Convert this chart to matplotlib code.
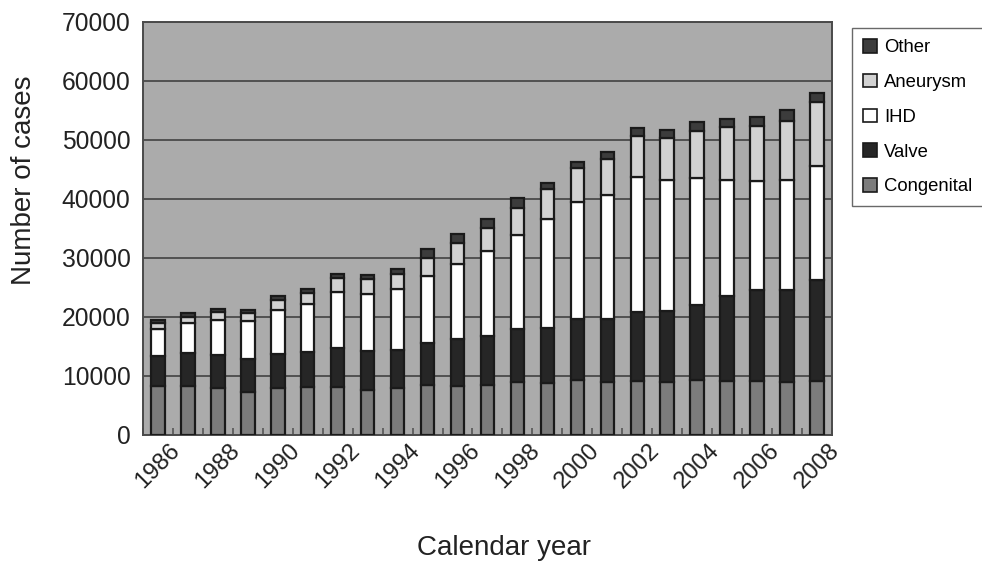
import matplotlib
matplotlib.use("Agg")
import matplotlib.pyplot as plt
import matplotlib.transforms as mtransforms
import numpy as np
from matplotlib.patches import Patch

plt.rcParams['font.family'] = ['Liberation Sans', 'DejaVu Sans']

years = list(range(1986, 2009))
congenital = [8300, 8300, 8010, 7330, 7890, 8180, 8180, 7620, 7880, 8390, 8270, 8390,
              9020, 8850, 9240, 8950, 9110, 9010, 9280, 9110, 9110, 9010, 9180]
valve = [5160, 5550, 5570, 5500, 5790, 5960, 6640, 6640, 6440, 7240, 7920, 8360,
         8980, 9320, 10340, 10740, 11690, 12070, 12820, 14420, 15390, 15490, 17090]
ihd = [4540, 5110, 5960, 6540, 7560, 8130, 9370, 9710, 10340, 11290, 12830, 14350,
       15810, 18470, 19880, 20900, 22960, 22110, 21370, 19660, 18520, 18690, 19320]
aneurysm = [960, 1090, 1240, 1300, 1590, 1870, 2440, 2380, 2540, 3000, 3560, 3950,
            4630, 5090, 5710, 6110, 6840, 7120, 8100, 8950, 9290, 9970, 10820]
other = [580, 560, 570, 570, 680, 680, 680, 740, 850, 1520, 1400, 1480,
         1760, 1020, 1070, 1230, 1420, 1430, 1470, 1420, 1540, 1880, 1590]

series = [
    ("Congenital", congenital, "#7c7c7c"),
    ("Valve", valve, "#262626"),
    ("IHD", ihd, "#ffffff"),
    ("Aneurysm", aneurysm, "#d2d2d2"),
    ("Other", other, "#3c3c3c"),
]

fig = plt.figure(figsize=(9.82, 5.61), dpi=100)
ax = fig.add_axes([0.1456, 0.2246, 0.7016, 0.7364])
ax.set_facecolor("#ababab")

x = np.arange(len(years))
bottom = np.zeros(len(years))
for name, vals, col in series:
    vals = np.array(vals, dtype=float)
    ax.bar(x, vals, bottom=bottom, width=0.45, color=col, edgecolor="#1a1a1a",
           linewidth=1.6, zorder=3)
    bottom += vals

ax.set_ylim(0, 70000)
ax.set_xlim(-0.5, len(years) - 0.5)
ax.set_yticks(np.arange(0, 70001, 10000))
ax.yaxis.grid(True, color="#4a4a4a", linewidth=1.3, zorder=1)
ax.set_axisbelow(True)

ax.set_xticks(x[::2])
ax.set_xticklabels([str(y) for y in years[::2]], rotation=45, ha="center", va="top",
                   fontsize=17.2, color="#222222")
shift = mtransforms.ScaledTranslation(6 / 100, 0, fig.dpi_scale_trans)
for lbl in ax.get_xticklabels():
    lbl.set_transform(lbl.get_transform() + shift)
ax.set_xticks(np.arange(-0.5, len(years), 1), minor=True)
ax.tick_params(axis="x", which="major", length=0, pad=3)
ax.tick_params(axis="x", which="minor", direction="in", length=5, width=1.2, color="#555555")
ax.tick_params(axis="y", length=0, pad=9, labelsize=17.7, labelcolor="#222222")

for s in ax.spines.values():
    s.set_color("#4a4a4a")
    s.set_linewidth(1.4)

ax.set_ylabel("Number of cases", fontsize=20, color="#222222", labelpad=18, y=0.617)
ax.set_xlabel("Calendar year", fontsize=20, color="#222222", labelpad=31, x=0.524)

handles = [Patch(facecolor=col, edgecolor="#1a1a1a", linewidth=1.2, label=name)
           for name, vals, col in reversed(series)]
leg = fig.legend(handles=handles, loc="upper left", bbox_to_anchor=(0.8676, 0.950),
                 borderaxespad=0, frameon=True, fontsize=13.3, handlelength=0.75,
                 handleheight=0.75, handletextpad=0.4, labelspacing=0.95,
                 borderpad=0.6, fancybox=False)
leg.get_frame().set_edgecolor("#444444")
leg.get_frame().set_linewidth(1.0)

fig.savefig("out.png", dpi=100, facecolor="white")
